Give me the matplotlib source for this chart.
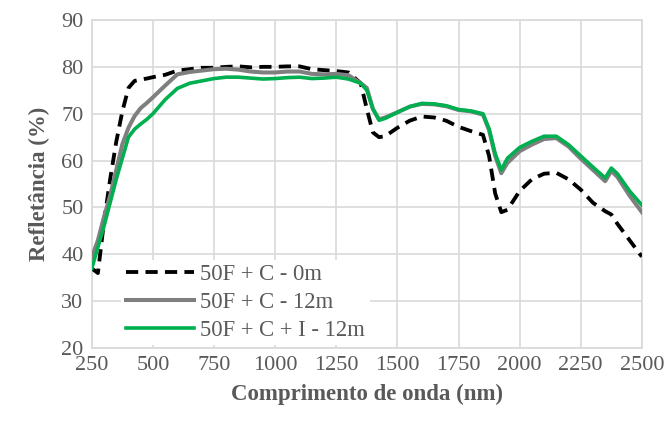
import matplotlib
matplotlib.use("Agg")
import matplotlib.pyplot as plt

wavelength = [250, 275, 300, 325, 350, 375, 400, 425, 450, 475, 500, 550, 600, 650, 700, 750,
              800, 850, 900, 950, 1000, 1050, 1100, 1150, 1200, 1250, 1300, 1350, 1375, 1400,
              1425, 1450, 1500, 1550, 1600, 1650, 1700, 1750, 1800, 1850, 1875, 1900, 1925,
              1950, 2000, 2050, 2100, 2150, 2200, 2250, 2300, 2350, 2375, 2400, 2450, 2500]

refl_0m = [37, 36, 47, 56, 64, 70.5, 75.5, 77, 77.3, 77.5, 77.8, 78.3, 79.2, 79.5, 79.8, 79.8,
           80, 80.1, 79.9, 80, 80, 80.1, 80.1, 79.5, 79.3, 79.1, 78.8, 76.5, 71, 66,
           65, 65.2, 67, 68.5, 69.4, 69.2, 68.5, 67.2, 66.3, 65.5, 61, 53, 49,
           49.5, 53.5, 56, 57.2, 57.4, 56, 53.8, 51, 49.2, 48.5, 46.5, 43, 39.5]

refl_12m = [39.4, 43, 48, 52.5, 58, 63.5, 67, 69.5, 71.2, 72.3, 73.5, 76, 78.4, 78.9, 79.2, 79.5,
            79.6, 79.4, 79, 78.8, 78.8, 79, 79, 78.5, 78.4, 78.5, 78.2, 76.5, 75.5, 71,
            68.8, 69.2, 70.3, 71.5, 72.1, 72, 71.6, 70.8, 70.5, 69.8, 66.5, 61, 57.3,
            59.5, 62, 63.4, 64.6, 64.8, 63, 60.4, 58, 55.6, 57.8, 56.5, 52.5, 49]

refl_i_12m = [37, 41.5, 46, 51, 56, 60.5, 65, 66.7, 67.8, 68.8, 70, 73, 75.4, 76.5, 77, 77.5,
              77.8, 77.8, 77.6, 77.4, 77.5, 77.7, 77.8, 77.5, 77.6, 77.8, 77.4, 76.5, 75, 71,
              68.6, 69, 70.3, 71.5, 72.2, 72.1, 71.7, 70.9, 70.6, 70, 66.8, 61.5, 58,
              60.5, 62.8, 64.1, 65.2, 65.2, 63.4, 61, 58.6, 56.3, 58.4, 57.2, 53.5, 50.5]

labels = ["50F + C - 0m", "50F + C - 12m", "50F + C + I - 12m"]
xticks = [250, 500, 750, 1000, 1250, 1500, 1750, 2000, 2250, 2500]
yticks = [20, 30, 40, 50, 60, 70, 80, 90]

plt.rcParams['font.family'] = ['Liberation Serif', 'DejaVu Serif']

fig = plt.figure(figsize=(6.7, 4.25), dpi=100)
ax = fig.add_axes([0.137, 0.181, 0.821, 0.772])

ax.plot(wavelength, refl_0m, color='black', lw=2.75, linestyle=(0, (3.2, 1.9)), label=labels[0], zorder=3)
ax.plot(wavelength, refl_12m, color='#7f7f7f', lw=2.9, label=labels[1], zorder=4)
ax.plot(wavelength, refl_i_12m, color='#00b050', lw=2.6, label=labels[2], zorder=5)

ax.set_xlim(250, 2500)
ax.set_ylim(20, 90)
ax.set_xticks(xticks)
ax.set_yticks(yticks)
ax.grid(True, color='#d9d9d9', lw=1.2)
ax.set_axisbelow(True)
for s in ax.spines.values():
    s.set_color('#d9d9d9')
    s.set_linewidth(1.2)
ax.tick_params(length=0, labelsize=16, labelcolor='#595959', pad=6)

ax.set_xlabel('Comprimento de onda (nm)', fontsize=16.5, fontweight='bold', color='#595959', labelpad=6)
ax.set_ylabel('Refletância (%)', fontsize=16.5, fontweight='bold', color='#595959', labelpad=8)

leg = ax.legend(loc='lower left', bbox_to_anchor=(0.045, -0.005), frameon=True, fontsize=16.3,
                handlelength=3.0, handletextpad=0.3, labelspacing=0.3, borderpad=0.2,
                borderaxespad=0.2)
leg.get_frame().set_edgecolor('none')
leg.get_frame().set_facecolor('white')
leg.get_frame().set_alpha(1)
for t in leg.get_texts():
    t.set_color('#595959')

fig.savefig('out.png', dpi=100)
